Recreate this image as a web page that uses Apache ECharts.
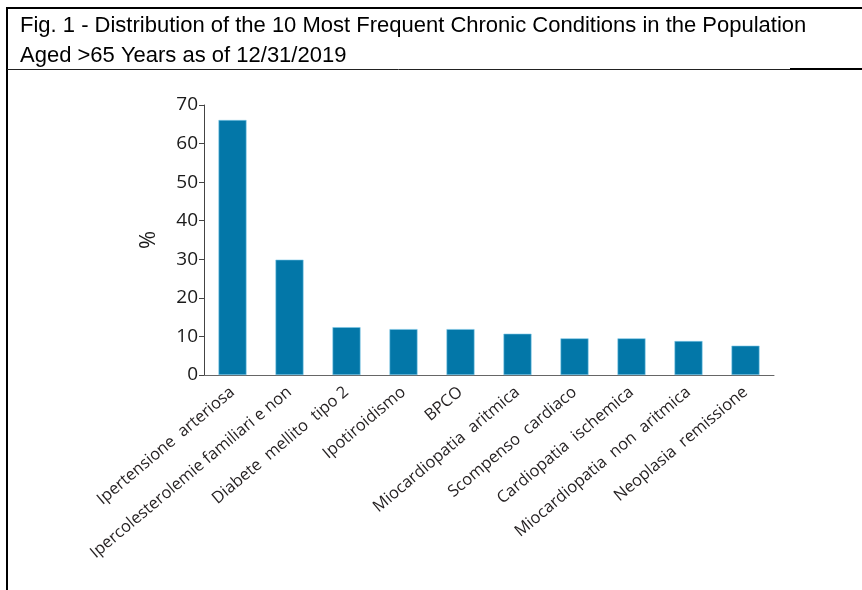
<!DOCTYPE html>
<html>
<head>
<meta charset="utf-8">
<script src="https://cdn.jsdelivr.net/npm/echarts@6/dist/echarts.min.js"></script>
<style>
  html, body { margin: 0; padding: 0; background: #fff; }
  #chart { width: 862px; height: 590px; }
</style>
</head>
<body>
<div id="chart"></div>
<script>
// Chronic conditions, population aged >65 (share in %)
const titleLines = [
  'Fig. 1 - Distribution of the 10 Most Frequent Chronic Conditions in the Population',
  'Aged >65 Years as of 12/31/2019'
];
const conditions = [
  'Ipertensione  arteriosa',
  'Ipercolesterolemie familiari e non',
  'Diabete  mellito  tipo 2',
  'Ipotiroidismo',
  'BPCO',
  'Miocardiopatia  aritmica',
  'Scompenso  cardiaco',
  'Cardiopatia  ischemica',
  'Miocardiopatia  non  aritmica',
  'Neoplasia  remissione'
];
const percentages = [66.1, 29.9, 12.4, 11.9, 11.9, 10.7, 9.5, 9.5, 8.8, 7.6];
const yTicks = { min: 0, max: 70, interval: 10 };
const yAxisName = '%';

const chart = echarts.init(document.getElementById('chart'), null, { renderer: 'canvas' });

const labelFont = '"Open Sans", sans-serif';

chart.setOption({
  animation: false,
  backgroundColor: '#ffffff',
  grid: { left: 204, right: 88, top: 105, bottom: 215, containLabel: false },
  xAxis: {
    type: 'category',
    data: conditions,
    axisLine: { lineStyle: { color: '#666666', width: 1 } },
    axisTick: { show: false },
    axisLabel: {
      interval: 0,
      rotate: 40,
      margin: 15,
      color: '#231f20',
      fontFamily: labelFont,
      fontSize: 16.4
    }
  },
  yAxis: {
    type: 'value',
    min: yTicks.min,
    max: yTicks.max,
    interval: yTicks.interval,
    name: yAxisName,
    nameLocation: 'middle',
    nameRotate: 90,
    nameGap: 44,
    nameTextStyle: { color: '#1a1a1a', fontFamily: '"Open Sans", sans-serif', fontSize: 22 },
    splitLine: { show: false },
    axisLine: { show: true, lineStyle: { color: '#444444', width: 1 } },
    axisTick: { show: true, length: 5, lineStyle: { color: '#444444' } },
    axisLabel: {
      margin: 6,
      color: '#1a1a1a',
      fontFamily: '"Open Sans", sans-serif',
      fontSize: 19
    }
  },
  series: [{
    type: 'bar',
    data: percentages,
    barWidth: 28,
    itemStyle: { color: '#0377a8', borderColor: '#7cc7e8', borderWidth: 0.6 }
  }],
  graphic: [
    // frame around the figure
    { type: 'line', shape: { x1: 7, y1: 8, x2: 862, y2: 8 }, style: { stroke: '#000', lineWidth: 2 } },
    { type: 'line', shape: { x1: 7, y1: 7, x2: 7, y2: 590 }, style: { stroke: '#000', lineWidth: 2 } },
    { type: 'line', shape: { x1: 7, y1: 69.5, x2: 790, y2: 69.5 }, style: { stroke: '#222', lineWidth: 1 } },
    { type: 'line', shape: { x1: 790, y1: 69, x2: 862, y2: 69 }, style: { stroke: '#000', lineWidth: 2 } },
    {
      type: 'text', left: 20, top: 15,
      style: { text: titleLines[0], fill: '#000', font: '22px "Liberation Sans", sans-serif' }
    },
    {
      type: 'text', left: 20, top: 45,
      style: { text: titleLines[1], fill: '#000', font: '22px "Liberation Sans", sans-serif' }
    }
  ]
});
</script>
</body>
</html>
